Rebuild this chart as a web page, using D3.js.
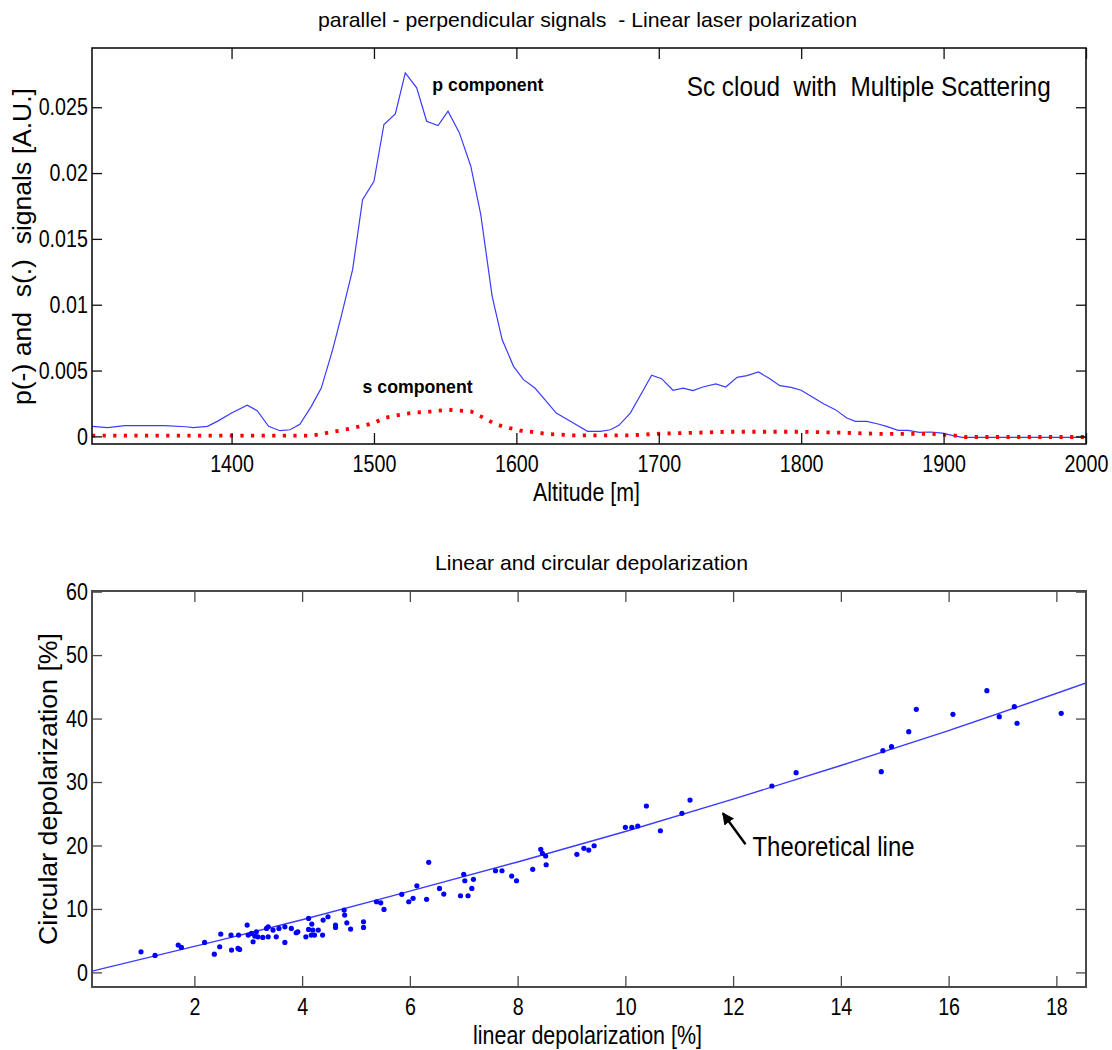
<!DOCTYPE html>
<html>
<head>
<meta charset="utf-8">
<script src="https://cdn.jsdelivr.net/npm/d3@7"></script>
<style>
  body { margin: 0; background: #fff; }
  svg text { font-family: "Liberation Sans Narrow", "Arial Narrow", "Liberation Sans", Arial, sans-serif; fill: #000; white-space: pre; }
</style>
</head>
<body>
<svg id="fig" width="1112" height="1050"></svg>
<script>
// ---- top panel: parallel / perpendicular signals vs altitude ----
var altP = [1302,1313,1325,1353,1368,1373,1383,1390,1400,1411,1418,1426,1434,1441,1448,1456,1463,1471,1477,1485,
            1492,1500,1507,1515,1522,1530,1537,1545,1552,1560,1568,1575,1583,1590,1598,1605,1613,1620,1628,1640,
            1650,1659,1666,1672,1680,1688,1695,1702,1710,1717,1724,1731,1740,1747,1755,1762,1770,1778,1785,1793,
            1800,1809,1816,1824,1832,1838,1846,1854,1860,1868,1875,1883,1891,1899,1906,1913,2000];
var pSignal = [0.00076,0.00066,0.00081,0.00081,0.00073,0.00066,0.00076,0.00114,0.00177,0.00236,0.00195,0.00076,0.00043,0.00050,0.00091,0.00228,0.00367,0.00659,0.00912,0.01266,
               0.01798,0.01938,0.02369,0.02450,0.02761,0.02647,0.02394,0.02361,0.02470,0.02305,0.02052,0.01684,0.01064,0.00735,0.00532,0.00431,0.00367,0.00279,0.00177,0.00101,
               0.00038,0.00038,0.00050,0.00084,0.00177,0.00329,0.00464,0.00438,0.00350,0.00367,0.00347,0.00375,0.00398,0.00375,0.00448,0.00461,0.00489,0.00438,0.00385,0.00372,
               0.00350,0.00291,0.00246,0.00203,0.00139,0.00114,0.00114,0.00094,0.00076,0.00046,0.00046,0.00030,0.00033,0.00025,0.00008,-0.00008,-0.00008];

var altS = [1302,1455,1462,1470,1477,1485,1492,1500,1507,1515,1522,1530,1537,1545,1552,1560,1568,1575,
            1583,1590,1598,1605,1613,1620,1628,1640,1680,1700,1750,1800,1820,1860,1890,1905,1915,2000];
var sSignal = [0.00005,0.00005,0.00015,0.00033,0.00046,0.00063,0.00081,0.00101,0.00139,0.00157,0.00172,0.00182,0.00185,0.00195,0.00203,0.00195,0.00190,0.00152,
               0.00106,0.00076,0.00056,0.00038,0.00033,0.00020,0.00015,0.00008,0.00008,0.00020,0.00035,0.00035,0.00030,0.00018,0.00020,0.00010,-0.00005,-0.00005];

var altTicks = [1400,1500,1600,1700,1800,1900,2000];
var sigTicks = [0,0.005,0.01,0.015,0.02,0.025];

// ---- bottom panel: linear vs circular depolarization ----
var linDep = [1.01,1.27,1.70,1.76,2.19,2.37,2.47,2.49,2.69,2.68,2.82,2.81,2.84,2.98,3.00,3.06,3.09,3.12,3.15,3.18,
              3.34,3.37,3.27,3.37,3.46,3.52,3.57,3.68,3.68,3.80,3.89,3.92,4.07,4.12,4.12,4.17,4.18,4.20,4.23,4.30,
              4.38,4.39,4.48,4.62,4.62,4.78,4.79,4.83,4.90,5.14,5.14,5.38,5.46,5.52,5.85,5.98,6.06,6.13,6.35,6.31,
              6.55,6.63,6.94,7.00,7.02,7.08,7.18,7.15,7.59,7.71,7.89,7.98,8.28,8.43,8.46,8.52,8.53,9.10,9.23,9.32,
              9.42,10.00,10.12,10.23,10.39,10.65,11.05,11.20,12.72,13.17,14.75,14.78,14.94,15.26,15.40,16.08,16.71,16.94,17.22,17.27,
              18.09];
var circDep = [3.25,2.68,4.30,3.94,4.73,2.88,4.04,6.04,3.52,5.88,5.88,3.78,3.62,7.46,5.88,6.14,4.83,5.72,6.40,5.61,
               6.93,7.19,5.51,5.61,6.67,5.61,6.93,4.73,7.19,6.93,6.25,6.40,5.61,8.51,6.78,5.88,7.61,6.67,5.88,6.67,
               5.88,8.25,8.77,7.46,7.09,9.82,9.03,7.82,6.83,7.98,7.09,11.13,10.97,9.93,12.30,11.13,11.67,13.65,17.34,11.51,
               13.24,12.34,12.08,15.45,14.44,12.08,14.66,13.24,16.02,16.02,15.18,14.44,16.24,19.39,18.76,18.34,16.96,18.60,19.55,19.28,
               19.96,22.86,22.86,23.07,26.22,22.32,25.07,27.16,29.37,31.47,31.63,34.94,35.57,37.93,41.46,40.67,44.40,40.30,41.87,39.26,
               40.83];

// theoretical curve
var theoLin = [0.1,2,4,6,8,10,12,14,16,18.55];
var theoCirc = [0.2,4.1,8.3,12.8,17.4,22.2,27.3,32.6,38.1,45.6];

var linTicks = [2,4,6,8,10,12,14,16,18];
var circTicks = [0,10,20,30,40,50,60];

var svg = d3.select("#fig");

// small helper for fitted text
function label(txt, x, y, size, len, rot, weight) {
    var t = svg.append("text")
        .attr("x", x).attr("y", y)
        .attr("font-size", size)
        .attr("text-anchor", "start")
        .text(txt);
    if (len) t.attr("textLength", len).attr("lengthAdjust", "spacingAndGlyphs");
    if (rot) t.attr("transform", "rotate(-90," + x + "," + y + ")");
    if (weight) t.attr("font-weight", weight);
    return t;
}

function frame(L, R, T, B, xs, ys, xt, yt, col, sw, clipId) {
    var g = svg.append("g");
    svg.append("clipPath").attr("id", clipId)
      .append("rect").attr("x", L).attr("y", T).attr("width", R - L).attr("height", B - T);

    var fmt = function (d) { return String(d); };
    var axB = d3.axisBottom(xs).tickValues(xt).tickFormat(fmt).tickSizeInner(-11).tickSizeOuter(0).tickPadding(11);
    var axT = d3.axisTop(xs).tickValues(xt).tickSizeInner(-11).tickSizeOuter(0).tickFormat("");
    var axL = d3.axisLeft(ys).tickValues(yt).tickFormat(fmt).tickSizeInner(-10).tickSizeOuter(0).tickPadding(5);
    var axR = d3.axisRight(ys).tickValues(yt).tickSizeInner(-10).tickSizeOuter(0).tickFormat("");

    [[axB, "translate(0," + B + ")"], [axT, "translate(0," + T + ")"],
     [axL, "translate(" + L + ",0)"], [axR, "translate(" + R + ",0)"]].forEach(function (a) {
        var ag = g.append("g").attr("transform", a[1]).call(a[0]);
        ag.select(".domain").remove();
        ag.selectAll("line").attr("stroke", col).attr("stroke-width", 1.3);
        // squeeze the labels to a narrow face, as in the original
        ag.selectAll("text").attr("font-size", 24).attr("fill", "#000")
          .attr("transform", "scale(0.82,1)");
    });
    g.selectAll("text").attr("font-family", null);
    g.append("rect").attr("x", L).attr("y", T).attr("width", R - L).attr("height", B - T)
      .attr("fill", "none").attr("stroke", col).attr("stroke-width", sw);
    return g;
}

// ===== top panel =====
var t1 = { L: 92, R: 1086, T: 48, B: 444 };
var x1 = d3.scaleLinear().domain([1302, 2000]).range([t1.L, t1.R]);
var y1 = d3.scaleLinear().domain([-0.00058, 0.0295]).range([t1.B, t1.T]);

var pLine = d3.line().x(function (d, i) { return x1(altP[i]); }).y(function (d) { return y1(d); });
var sLine = d3.line().x(function (d, i) { return x1(altS[i]); }).y(function (d) { return y1(d); });

var clipTop = svg.append("g").attr("clip-path", "url(#clipTop)");
clipTop.append("path").attr("d", pLine(pSignal))
    .attr("fill", "none").attr("stroke", "#3b3bff").attr("stroke-width", 1.2);
clipTop.append("path").attr("d", sLine(sSignal))
    .attr("fill", "none").attr("stroke", "#ff0000").attr("stroke-width", 3.8)
    .attr("stroke-dasharray", "3.2,7.4");

frame(t1.L, t1.R, t1.T, t1.B, x1, y1, altTicks, sigTicks, "#111", 1.6, "clipTop");

label("parallel - perpendicular signals  - Linear laser polarization", 318, 27, 21, 539);
label("p component", x1(1541), y1(0.02621), 19, 111, false, "bold");
label("s component", x1(1492), y1(0.0033), 19, 110, false, "bold");
label("Sc cloud  with  Multiple Scattering", x1(1719.6), y1(0.02589), 27, 364);
label("Altitude [m]", 533, 501, 25, 107);
label("p(-) and  s(.)  signals [A.U.]", 31, 405, 25, 317, true);

// ===== bottom panel =====
var t2 = { L: 92, R: 1086, T: 591, B: 987 };
var x2 = d3.scaleLinear().domain([0.1, 18.55]).range([t2.L, t2.R]);
var y2 = d3.scaleLinear().domain([-2.3, 60.1]).range([t2.B, t2.T]);

var theo = d3.line().x(function (d, i) { return x2(theoLin[i]); }).y(function (d) { return y2(d); })
    .curve(d3.curveMonotoneX);

var clipBot = svg.append("g").attr("clip-path", "url(#clipBot)");
clipBot.append("path").attr("d", theo(theoCirc))
    .attr("fill", "none").attr("stroke", "#3b3bff").attr("stroke-width", 1.4);
clipBot.selectAll("circle").data(linDep).enter().append("circle")
    .attr("cx", function (d) { return x2(d); })
    .attr("cy", function (d, i) { return y2(circDep[i]); })
    .attr("r", 2.6)
    .attr("fill", "#0000ff");

frame(t2.L, t2.R, t2.T, t2.B, x2, y2, linTicks, circTicks, "#4a4a4a", 2, "clipBot");

// arrow for the theoretical line
svg.append("defs").append("marker").attr("id", "head")
    .attr("viewBox", "0 0 10 10").attr("refX", 9).attr("refY", 5)
    .attr("markerWidth", 5).attr("markerHeight", 5).attr("orient", "auto")
  .append("path").attr("d", "M0,0 L10,5 L0,10 z").attr("fill", "#000");
svg.append("line")
    .attr("x1", x2(12.23)).attr("y1", y2(20.2))
    .attr("x2", x2(11.81)).attr("y2", y2(25.07))
    .attr("stroke", "#000").attr("stroke-width", 2.4).attr("marker-end", "url(#head)");

label("Theoretical line", x2(12.36), y2(18.3), 27, 162);
label("Linear and circular depolarization", 435, 570, 21, 313);
label("linear depolarization [%]", 473, 1044, 26, 229);
label("Circular depolarization [%]", 57, 945, 26, 312, true);
</script>
</body>
</html>
